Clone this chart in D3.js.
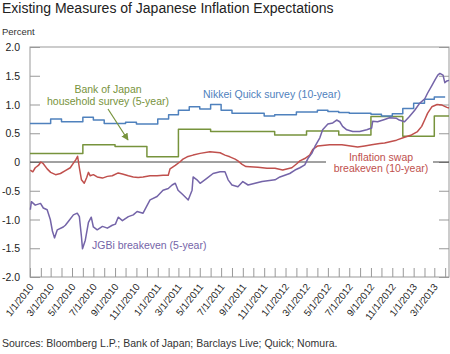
<!DOCTYPE html>
<html>
<head>
<meta charset="utf-8">
<script src="https://cdn.jsdelivr.net/npm/d3@7"></script>
<style>
  body { margin: 0; background: #fff; }
  svg { font-family: "Liberation Sans", Arial, sans-serif; }
</style>
</head>
<body>
<svg id="chart" width="450" height="354"></svg>
<script>
// Nikkei Quick survey (10-year), monthly steps
var nikkei = [
  ["2010-01-01", 0.67], ["2010-03-01", 0.75], ["2010-04-01", 0.70], ["2010-06-01", 0.78],
  ["2010-07-01", 0.73], ["2010-08-01", 0.67], ["2010-10-01", 0.69], ["2010-11-01", 0.66],
  ["2011-01-01", 0.75], ["2011-02-01", 0.82], ["2011-03-01", 0.90], ["2011-04-01", 0.96],
  ["2011-05-01", 0.92], ["2011-06-01", 1.00], ["2011-07-01", 0.90], ["2011-08-01", 0.85],
  ["2011-11-01", 0.80], ["2011-12-01", 0.82], ["2012-02-01", 0.87], ["2012-04-01", 0.90],
  ["2012-05-01", 0.88], ["2012-06-01", 0.86], ["2012-07-01", 0.85], ["2012-09-01", 0.83],
  ["2012-10-01", 0.80], ["2012-11-01", 0.84], ["2012-12-01", 0.93], ["2013-01-01", 1.02],
  ["2013-02-01", 1.09], ["2013-03-01", 1.13], ["2013-04-01", 1.13]
];

// Bank of Japan household survey (5-year), quarterly steps
var boj = [
  ["2010-01-01", 0.15], ["2010-06-01", 0.30], ["2010-09-01", 0.27], ["2010-12-01", 0.09],
  ["2011-03-01", 0.57], ["2011-06-01", 0.53], ["2011-12-01", 0.47], ["2012-03-01", 0.54],
  ["2012-06-01", 0.47], ["2012-09-01", 0.79], ["2012-12-01", 0.45], ["2013-03-01", 0.80],
  ["2013-04-12", 0.80]
];

// Inflation swap breakeven (10-year)
var swap = [
  ["2010-01-02", -0.14], ["2010-01-09", -0.17], ["2010-01-16", -0.10], ["2010-01-25", -0.06],
  ["2010-02-01", 0.00], ["2010-02-08", -0.03], ["2010-02-19", -0.12], ["2010-03-01", -0.18],
  ["2010-03-15", -0.22], ["2010-03-29", -0.20], ["2010-04-12", -0.15], ["2010-04-26", -0.10],
  ["2010-05-05", -0.02], ["2010-05-12", 0.04], ["2010-05-17", 0.10], ["2010-05-22", -0.10],
  ["2010-05-28", -0.31], ["2010-06-05", -0.37], ["2010-06-12", -0.27], ["2010-06-17", -0.18],
  ["2010-06-22", -0.24], ["2010-07-01", -0.22], ["2010-07-12", -0.26], ["2010-07-27", -0.28],
  ["2010-08-10", -0.25], ["2010-08-24", -0.24], ["2010-09-10", -0.19], ["2010-09-22", -0.21],
  ["2010-10-09", -0.24], ["2010-10-23", -0.26], ["2010-11-06", -0.27], ["2010-11-20", -0.26],
  ["2010-12-10", -0.24], ["2010-12-30", -0.24], ["2011-01-16", -0.23], ["2011-01-31", -0.23],
  ["2011-02-05", -0.12], ["2011-02-20", -0.06], ["2011-03-05", 0.00], ["2011-03-14", 0.05],
  ["2011-03-26", 0.09], ["2011-04-12", 0.12], ["2011-05-02", 0.15], ["2011-05-30", 0.18],
  ["2011-06-28", 0.16], ["2011-07-12", 0.12], ["2011-07-26", 0.09], ["2011-08-10", 0.05],
  ["2011-08-18", 0.02], ["2011-08-30", -0.04], ["2011-09-10", -0.08], ["2011-10-14", -0.09],
  ["2011-11-09", -0.11], ["2011-12-02", -0.11], ["2011-12-24", -0.14], ["2012-01-19", -0.10],
  ["2012-02-02", -0.03], ["2012-02-11", 0.02], ["2012-02-25", 0.06], ["2012-03-10", 0.12],
  ["2012-03-19", 0.22], ["2012-04-02", 0.28], ["2012-05-06", 0.30], ["2012-06-10", 0.30],
  ["2012-07-25", 0.26], ["2012-08-14", 0.28], ["2012-09-03", 0.30], ["2012-09-26", 0.32],
  ["2012-10-10", 0.33], ["2012-11-13", 0.38], ["2012-12-06", 0.43], ["2012-12-26", 0.47],
  ["2013-01-12", 0.53], ["2013-01-24", 0.62], ["2013-02-02", 0.74], ["2013-02-10", 0.85],
  ["2013-02-22", 0.96], ["2013-03-09", 1.00], ["2013-03-23", 0.99], ["2013-04-06", 0.95],
  ["2013-04-12", 0.94]
];

// JGBi breakeven (5-year)
var jgbi = [
  ["2010-01-02", -0.83], ["2010-01-05", -0.69], ["2010-01-16", -0.75], ["2010-01-31", -0.72],
  ["2010-02-08", -0.80], ["2010-02-19", -0.83], ["2010-02-28", -1.00], ["2010-03-06", -1.20],
  ["2010-03-12", -1.32], ["2010-03-20", -1.18], ["2010-04-06", -1.13], ["2010-04-12", -1.10],
  ["2010-04-21", -1.03], ["2010-05-05", -0.92], ["2010-05-16", -0.89], ["2010-05-22", -0.95],
  ["2010-05-28", -1.30], ["2010-05-31", -1.51], ["2010-06-08", -1.36], ["2010-06-17", -1.05],
  ["2010-06-25", -0.96], ["2010-07-01", -1.13], ["2010-07-12", -1.18], ["2010-07-27", -1.12],
  ["2010-08-10", -1.15], ["2010-08-24", -1.10], ["2010-09-02", -1.08], ["2010-09-10", -0.96],
  ["2010-09-22", -1.02], ["2010-10-09", -0.95], ["2010-10-23", -0.92], ["2010-11-03", -0.86],
  ["2010-11-20", -0.89], ["2010-12-02", -0.75], ["2010-12-10", -0.66], ["2010-12-30", -0.60],
  ["2011-01-16", -0.49], ["2011-01-31", -0.46], ["2011-02-11", -0.40], ["2011-02-20", -0.37],
  ["2011-02-28", -0.49], ["2011-03-14", -0.57], ["2011-03-29", -0.66], ["2011-04-09", -0.49],
  ["2011-04-12", -0.26], ["2011-04-23", -0.31], ["2011-05-02", -0.37], ["2011-05-22", -0.28],
  ["2011-06-08", -0.20], ["2011-06-28", -0.17], ["2011-07-12", -0.17], ["2011-07-21", -0.31],
  ["2011-08-01", -0.40], ["2011-08-18", -0.43], ["2011-09-01", -0.34], ["2011-09-16", -0.40],
  ["2011-10-06", -0.37], ["2011-10-26", -0.34], ["2011-12-02", -0.31], ["2011-12-16", -0.26],
  ["2011-12-30", -0.23], ["2012-01-13", -0.20], ["2012-01-28", -0.14], ["2012-02-11", -0.10],
  ["2012-02-25", -0.05], ["2012-03-05", 0.06], ["2012-03-16", 0.15], ["2012-03-25", 0.27],
  ["2012-04-08", 0.42], ["2012-04-16", 0.56], ["2012-05-01", 0.66], ["2012-05-15", 0.68],
  ["2012-05-26", 0.73], ["2012-06-04", 0.70], ["2012-06-12", 0.62], ["2012-06-24", 0.56],
  ["2012-07-11", 0.53], ["2012-07-31", 0.53], ["2012-08-20", 0.56], ["2012-09-03", 0.59],
  ["2012-09-06", 0.71], ["2012-09-20", 0.70], ["2012-10-10", 0.74], ["2012-10-24", 0.77],
  ["2012-11-13", 0.76], ["2012-11-21", 0.73], ["2012-12-06", 0.70], ["2012-12-20", 0.79],
  ["2013-01-04", 0.90], ["2013-01-18", 1.02], ["2013-02-02", 1.10], ["2013-02-10", 1.20],
  ["2013-02-22", 1.33], ["2013-03-03", 1.43], ["2013-03-11", 1.51], ["2013-03-17", 1.54],
  ["2013-03-26", 1.51], ["2013-03-31", 1.38], ["2013-04-06", 1.41], ["2013-04-12", 1.42]
];

var yTicks = [2.0, 1.5, 1.0, 0.5, 0, -0.5, -1.0, -1.5, -2.0];
var yTickLabels = ["2.0", "1.5", "1.0", "0.5", "0", "-0.5", "-1.0", "-1.5", "-2.0"];

var parse = d3.timeParse("%Y-%m-%d");
var svg = d3.select("#chart");

var margin = {top: 47, left: 30, bottom: 77, right: 1};
var width = 450, height = 354;

var x = d3.scaleTime()
    .domain([parse("2010-01-01"), parse("2013-04-12")])
    .range([margin.left, width - margin.right]);
var y = d3.scaleLinear().domain([-2, 2]).range([height - margin.bottom, margin.top]);

// title and notes
svg.append("text").attr("x", 2).attr("y", 13)
    .style("font-size", "14px").style("fill", "#222")
    .text("Existing Measures of Japanese Inflation Expectations");
svg.append("text").attr("x", 2).attr("y", 35)
    .style("font-size", "9.5px").style("fill", "#333").text("Percent");
svg.append("text").attr("x", 2).attr("y", 347)
    .style("font-size", "10.5px").style("fill", "#333")
    .text("Sources: Bloomberg L.P.; Bank of Japan; Barclays Live; Quick; Nomura.");

// y axis (ticks inside, both sides)
var yLeft = d3.axisRight(y).tickValues(yTicks).tickSize(10).tickFormat("");
var yRight = d3.axisLeft(y).tickValues(yTicks).tickSize(10).tickFormat("");
svg.append("g").attr("transform", "translate(" + margin.left + ",0)").call(yLeft)
    .call(function(g) { g.select(".domain").remove(); g.selectAll("line").attr("stroke", "#999"); });
svg.append("g").attr("transform", "translate(" + (width - margin.right) + ",0)").call(yRight)
    .call(function(g) { g.select(".domain").remove(); g.selectAll("line").attr("stroke", "#999"); });

svg.append("g").selectAll("text").data(yTicks).enter().append("text")
    .attr("x", 20).attr("y", function(d) { return y(d) + 4; })
    .attr("text-anchor", "end")
    .style("font-size", "10.5px").style("fill", "#222")
    .text(function(d, i) { return yTickLabels[i]; });

// x axis: monthly ticks inside, labels every 2 months
var xAxis = d3.axisTop(x).ticks(d3.timeMonth.every(1)).tickSize(9).tickFormat("");
svg.append("g").attr("transform", "translate(0," + (height - margin.bottom) + ")").call(xAxis)
    .call(function(g) { g.select(".domain").remove(); g.selectAll("line").attr("stroke", "#999"); });

var fmt = d3.timeFormat("%-m/%-d/%Y");
var labelDates = d3.timeMonth.every(2).range(parse("2010-01-01"), parse("2013-04-02"));
svg.append("g").selectAll("text").data(labelDates).enter().append("text")
    .attr("text-anchor", "end")
    .attr("transform", function(d) { return "translate(" + (x(d) + 4) + "," + 287 + ") rotate(-52)"; })
    .style("font-size", "9.8px").style("fill", "#222")
    .text(function(d) { return fmt(d); });

// plot frame
svg.append("rect")
    .attr("x", margin.left).attr("y", margin.top)
    .attr("width", width - margin.left - margin.right)
    .attr("height", height - margin.top - margin.bottom)
    .attr("fill", "none").attr("stroke", "#999");

// zero line
svg.append("line")
    .attr("x1", margin.left).attr("x2", width - margin.right)
    .attr("y1", y(0)).attr("y2", y(0))
    .attr("stroke", "#444").attr("stroke-width", 1);

function drawLine(data, color, curve) {
  var line = d3.line()
      .x(function(d) { return x(parse(d[0])); })
      .y(function(d) { return y(d[1]); })
      .curve(curve || d3.curveLinear);
  svg.append("path").datum(data)
      .attr("d", line).attr("fill", "none")
      .attr("stroke", color).attr("stroke-width", 1.5)
      .attr("stroke-linejoin", "round");
}

drawLine(boj, "#77933c", d3.curveStepAfter);
drawLine(nikkei, "#4f81bd", d3.curveStepAfter);
drawLine(swap, "#c0504d");
drawLine(jgbi, "#7464a8");

// annotations
var lab = svg.append("g").style("font-size", "10.5px");

lab.append("rect").attr("x", 326).attr("y", 151).attr("width", 107).attr("height", 23).attr("fill", "#fff");
lab.append("text").attr("x", 381).attr("y", 161).attr("text-anchor", "middle")
    .style("fill", "#c0504d").text("Inflation swap");
lab.append("text").attr("x", 381).attr("y", 172).attr("text-anchor", "middle")
    .style("fill", "#c0504d").text("breakeven (10-year)");

lab.append("text").attr("x", 203).attr("y", 98).style("fill", "#4f81bd")
    .text("Nikkei Quick survey (10-year)");

lab.append("text").attr("x", 92).attr("y", 249).style("fill", "#7464a8")
    .text("JGBi breakeven (5-year)");

lab.append("text").attr("x", 108).attr("y", 93).attr("text-anchor", "middle")
    .style("fill", "#77933c").text("Bank of Japan");
lab.append("text").attr("x", 108).attr("y", 105).attr("text-anchor", "middle")
    .style("fill", "#77933c").text("household survey (5-year)");

svg.append("defs").append("marker")
    .attr("id", "arrow").attr("viewBox", "0 0 10 10")
    .attr("refX", 9).attr("refY", 5)
    .attr("markerWidth", 6).attr("markerHeight", 6)
    .attr("orient", "auto")
  .append("path").attr("d", "M0,0 L10,5 L0,10 z").attr("fill", "#77933c");

svg.append("line")
    .attr("x1", 108).attr("y1", 109).attr("x2", 128).attr("y2", 140)
    .attr("stroke", "#77933c").attr("stroke-width", 1.2)
    .attr("marker-end", "url(#arrow)");
</script>
</body>
</html>
